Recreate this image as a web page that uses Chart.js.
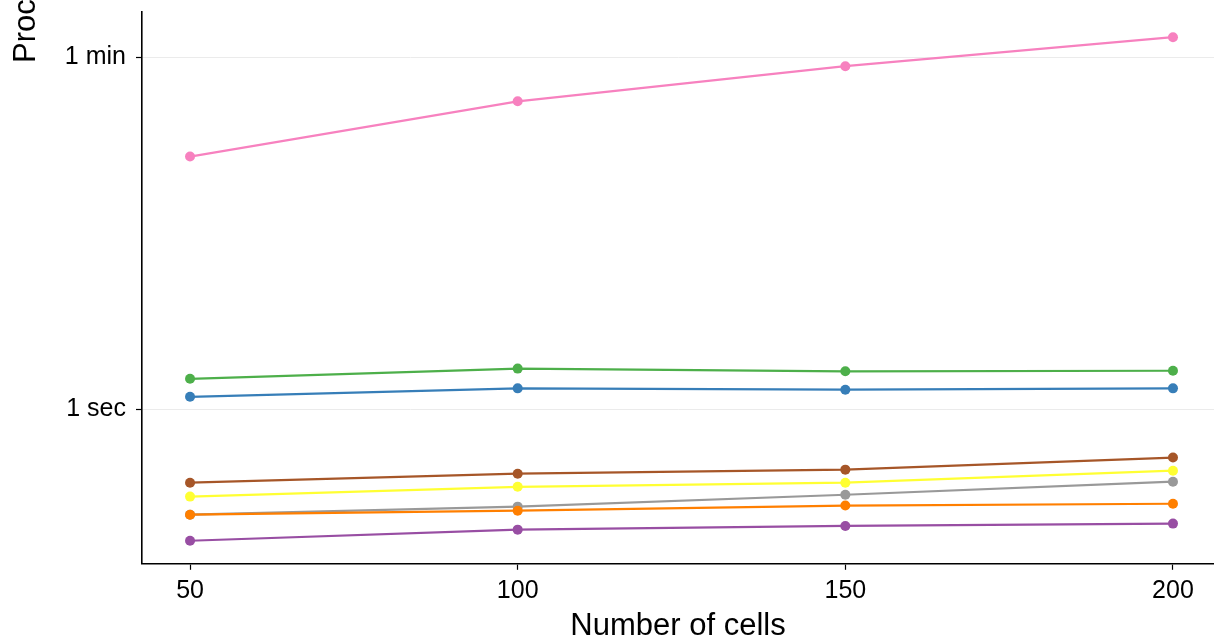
<!DOCTYPE html>
<html>
<head>
<meta charset="utf-8">
<script src="https://cdn.jsdelivr.net/npm/chart.js@4/dist/chart.umd.min.js"></script>
<style>
  html, body { margin: 0; padding: 0; background: #fff; overflow: hidden; }
  #wrap { width: 1214px; height: 639px; position: relative; }
</style>
</head>
<body>
<div id="wrap"><canvas id="timingChart"></canvas></div>
<script>
// number of cells on the x axis
const cellCounts = [50, 100, 150, 200];

// processing time in seconds, one array per method (Set1 colours)
const blueTimes   = [1.16, 1.28, 1.26, 1.28];
const greenTimes  = [1.43, 1.61, 1.56, 1.57];
const purpleTimes = [0.218, 0.248, 0.259, 0.266];
const orangeTimes = [0.295, 0.309, 0.328, 0.335];
const yellowTimes = [0.364, 0.408, 0.428, 0.492];
const brownTimes  = [0.428, 0.475, 0.498, 0.573];
const pinkTimes   = [18.9, 35.9, 54.0, 75.6];
const greyTimes   = [0.295, 0.324, 0.372, 0.433];

// y tick positions (seconds) and their labels
const yTickValues = [1, 60];
const yTickLabels = ["1 sec", "1 min"];

const FONT = "'Liberation Sans', Arial, Helvetica, sans-serif";

function makeSeries(label, values, color) {
  return {
    label: label,
    data: cellCounts.map((c, i) => ({ x: c, y: values[i] })),
    borderColor: color,
    backgroundColor: color,
    borderWidth: 2.2,
    pointRadius: 5,
    pointBorderWidth: 0,
    pointBackgroundColor: color,
    tension: 0,
  };
}

// drop the extra room Chart.js keeps for edge labels
function noEdgePadding(axis) {
  axis.paddingTop = 0;
  axis.paddingBottom = 0;
  axis.paddingLeft = 0;
  axis.paddingRight = 0;
}

////////////////////////////////
// y axis title (clipped at the top, as in the figure)
////////////////////////////////
const yTitlePlugin = {
  id: "yTitle",
  afterDraw(chart) {
    const ctx = chart.ctx;
    ctx.save();
    ctx.translate(35, 63);
    ctx.rotate(-Math.PI / 2);
    ctx.fillStyle = "#000";
    ctx.font = "31px " + FONT;
    ctx.textAlign = "left";
    ctx.textBaseline = "alphabetic";
    ctx.fillText("Processing time", 0, 0);
    ctx.restore();
  },
};

new Chart(document.getElementById("timingChart"), {
  type: "line",
  data: {
    datasets: [
      makeSeries("Method 2", blueTimes, "#377EB8"),
      makeSeries("Method 3", greenTimes, "#4DAF4A"),
      makeSeries("Method 4", purpleTimes, "#984EA3"),
      makeSeries("Method 5", orangeTimes, "#FF7F00"),
      makeSeries("Method 6", yellowTimes, "#FFFF33"),
      makeSeries("Method 7", brownTimes, "#A65628"),
      makeSeries("Method 8", pinkTimes, "#F781BF"),
      makeSeries("Method 9", greyTimes, "#999999"),
    ],
  },
  options: {
    responsive: true,
    maintainAspectRatio: false,
    animation: false,
    layout: { autoPadding: false, padding: { top: 12, right: 0, left: 0, bottom: 0 } },
    plugins: {
      legend: { display: false },
      tooltip: { enabled: false },
    },
    scales: {
      x: {
        type: "linear",
        min: 42.67,
        max: 206.26,
        afterBuildTicks: (axis) => { axis.ticks = cellCounts.map(v => ({ value: v })); },
        afterFit: noEdgePadding,
        grid: {
          drawOnChartArea: false,
          drawTicks: true,
          tickLength: 6,
          tickColor: "#000",
          tickWidth: 1.2,
        },
        border: { color: "#000", width: 1.6 },
        ticks: {
          color: "#000",
          font: { family: FONT, size: 25 },
          padding: 6.5,
          maxRotation: 0,
        },
        title: {
          display: true,
          text: "Number of cells",
          color: "#000",
          font: { family: FONT, size: 31 },
          padding: { top: -5, bottom: -6 },
        },
      },
      y: {
        type: "logarithmic",
        min: 0.1668,
        max: 101.3,
        afterBuildTicks: (axis) => { axis.ticks = yTickValues.map(v => ({ value: v })); },
        afterFit: (axis) => { noEdgePadding(axis); axis.width = 142; },
        grid: {
          color: "#EBEBEB",
          lineWidth: 1,
          drawTicks: true,
          tickLength: 6,
          tickColor: "#000",
          tickWidth: 1.2,
        },
        border: { color: "#000", width: 1.6 },
        ticks: {
          color: "#000",
          font: { family: FONT, size: 25 },
          padding: 10,
          callback: (value) => {
            const i = yTickValues.indexOf(value);
            return i >= 0 ? yTickLabels[i] : "";
          },
        },
      },
    },
  },
  plugins: [yTitlePlugin],
});
</script>
</body>
</html>
